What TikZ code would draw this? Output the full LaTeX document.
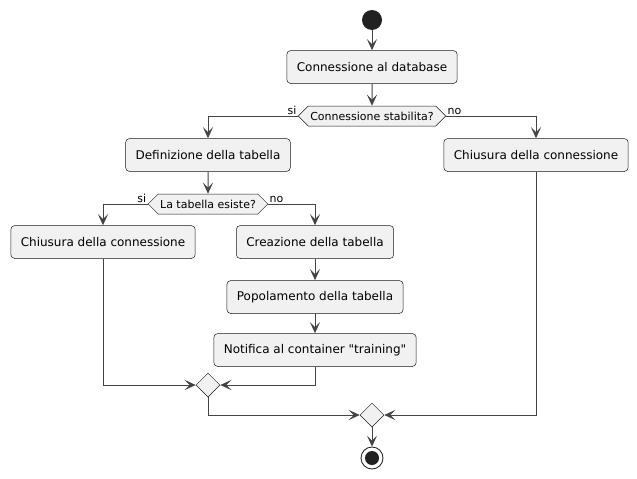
\documentclass[tikz,border=0pt]{standalone}
\usepackage{fontspec}
\setmainfont{DejaVu Sans}
\usetikzlibrary{arrows.meta,shapes.geometric,shapes.symbols}
\definecolor{actfill}{HTML}{F1F1F1}
\definecolor{actline}{HTML}{181818}
\definecolor{arrline}{HTML}{444444}
\definecolor{dotfill}{HTML}{222222}
\tikzset{
  act/.style={
    draw=actline,
    fill=actfill,
    line width=0.5pt,
    rounded corners=4pt,
    minimum height=33pt,
    inner xsep=10pt,
    inner ysep=0pt,
    font=\fontsize{12}{14}\selectfont
  },
  cond/.style={
    signal, signal to=west and east, signal pointer angle=90,
    draw=actline, fill=actfill, line width=0.5pt,
    minimum height=20pt, inner xsep=2pt, inner ysep=0pt,
    font=\fontsize{11}{13}\selectfont
  },
  merge/.style={
    diamond, draw=actline, fill=actfill, line width=0.5pt,
    minimum size=24pt, inner sep=0pt
  },
  flow/.style={draw=arrline, line width=1pt, -{Stealth[length=11pt,width=10pt,inset=5pt]}},
  brlbl/.style={font=\fontsize{11}{13}\selectfont, inner sep=1pt}
}

\begin{document}
\begin{tikzpicture}[x=1pt,y=-1pt]
  \useasboundingbox (0,0) rectangle (637,479);
  % start / end
  \node[circle, fill=dotfill, minimum size=20pt, inner sep=0pt] (start) at (372,20) {};
  \node[act] (conn) at (372,67) {Connessione al database};
  \node[cond] (qconn) at (372,116) {Connessione stabilita?};
  \node[act] (deftab) at (208,155) {Definizione della tabella};
  \node[act] (close1) at (536,155) {Chiusura della connessione};
  \node[cond] (qtab) at (208,204) {La tabella esiste?};
  \node[act] (close2) at (103,242) {Chiusura della connessione};
  \node[act] (create) at (315,242) {Creazione della tabella};
  \node[act] (fill) at (315,297) {Popolamento della tabella};
  \node[act] (notify) at (315,350) {Notifica al container \textquotedbl training\textquotedbl};
  \node[merge] (m1) at (208,385) {};
  \node[merge] (m2) at (372,415) {};
  \node[circle, draw=actline, fill=white, line width=0.8pt, minimum size=22pt, inner sep=0pt] (stop) at (372,458) {};
  \node[circle, fill=dotfill, minimum size=14pt, inner sep=0pt] (stopin) at (stop) {};

  % main flow
  \draw[flow] (start) -- (conn);
  \draw[flow] (conn) -- (qconn);
  \draw[flow] (qconn.west) node[brlbl, anchor=south east] {si} -| (deftab.north);
  \draw[flow] (qconn.east) node[brlbl, anchor=south west] {no} -| (close1.north);
  \draw[flow] (deftab) -- (qtab);
  \draw[flow] (qtab.west) node[brlbl, anchor=south east] {si} -| (close2.north);
  \draw[flow] (qtab.east) node[brlbl, anchor=south west] {no} -| (create.north);
  \draw[flow] (create) -- (fill);
  \draw[flow] (fill) -- (notify);
  % merges
  \draw[flow] (close2.south) |- (m1.west);
  \draw[flow] (notify.south) |- (m1.east);
  \draw[flow] (m1.south) |- (m2.west);
  \draw[flow] (close1.south) |- (m2.east);
  \draw[flow] (m2) -- (stop);
\end{tikzpicture}
\end{document}
